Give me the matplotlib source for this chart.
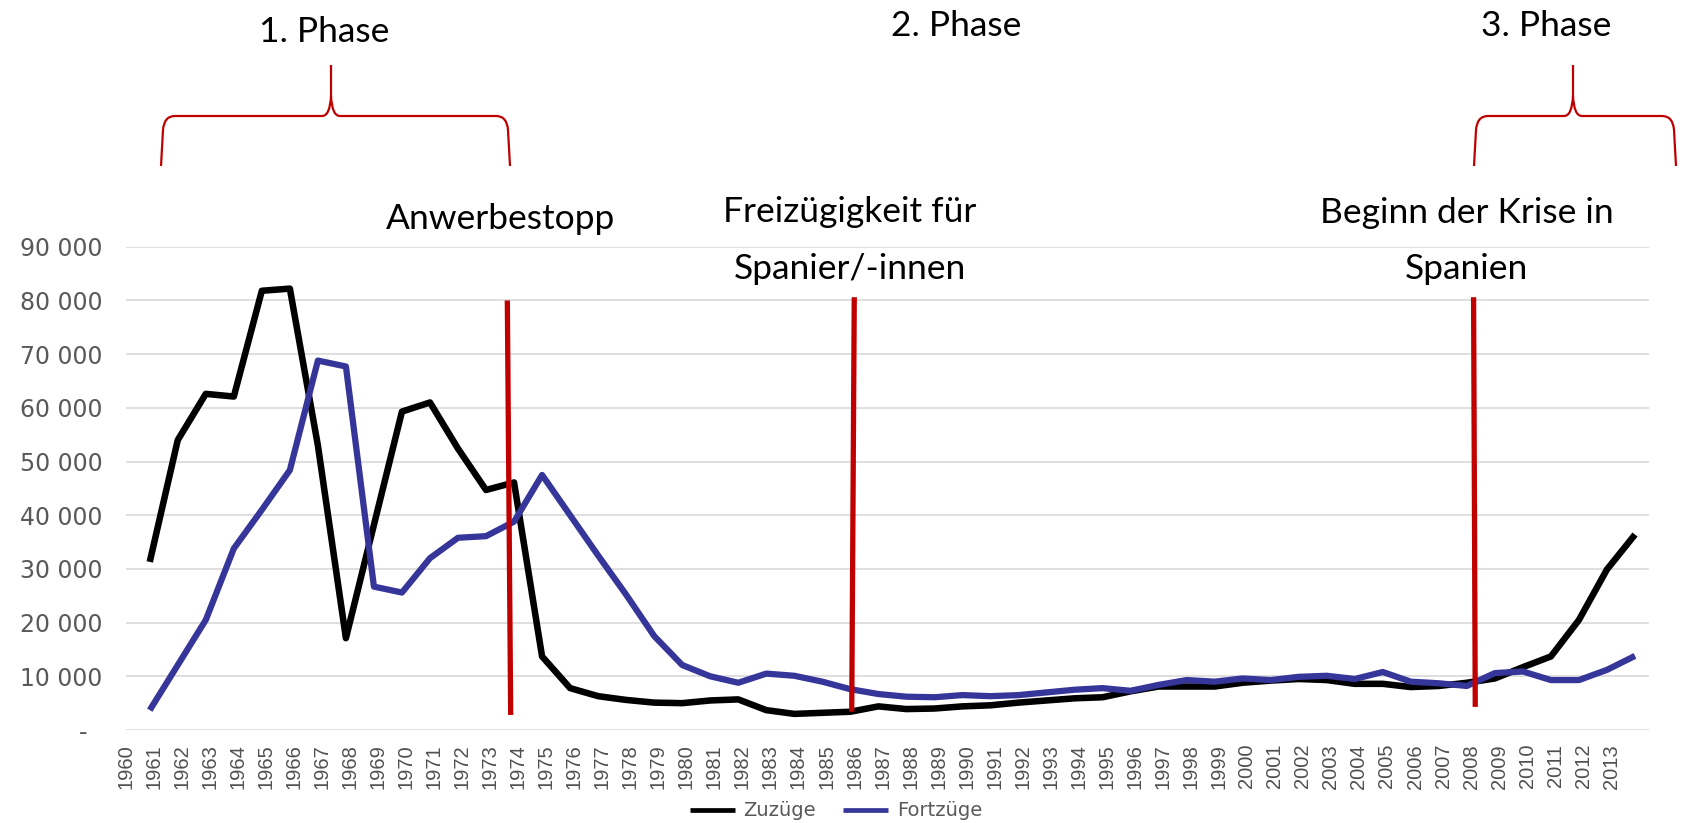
import numpy as np
import matplotlib.pyplot as plt
from matplotlib.path import Path
from matplotlib.patches import PathPatch

# Data: Zuzüge / Fortzüge spanischer Staatsangehöriger
years = list(range(1960, 2014))
zuzuege = [31300, 54000, 62600, 62100, 81800, 82200, 53000, 17100, 38200, 59300,
           61000, 52400, 44700, 46100, 13700, 7800, 6300, 5600, 5100, 5000,
           5500, 5700, 3700, 3000, 3200, 3400, 4400, 3900, 4000, 4400,
           4600, 5100, 5500, 5900, 6100, 7200, 8100, 8100, 8100, 8800,
           9200, 9500, 9300, 8600, 8600, 8000, 8200, 8800, 9600, 11700,
           13700, 20500, 29900, 36400]
fortzuege = [3700, 12100, 20500, 33800, 41000, 48400, 68800, 67700, 26700, 25600,
             32000, 35800, 36100, 38800, 47500, 40000, 32500, 25200, 17500, 12100,
             10000, 8800, 10500, 10100, 9000, 7600, 6700, 6200, 6100, 6500,
             6300, 6500, 7000, 7500, 7800, 7300, 8400, 9300, 9000, 9600,
             9300, 9900, 10100, 9500, 10800, 9000, 8700, 8200, 10600, 10900,
             9300, 9300, 11200, 13800]
y_ticks = [0, 10000, 20000, 30000, 40000, 50000, 60000, 70000, 80000, 90000]
y_ticklabels = ['-  ', '10 000', '20 000', '30 000', '40 000', '50 000',
                '60 000', '70 000', '80 000', '90 000']

# events (red markers): x at top / bottom, y range
event_x_top = [1972.76, 1985.14, 2007.24]
event_x_bot = [1972.88, 1985.05, 2007.30]
event_y_top = [80000, 80600, 80600]
event_y_bot = [2800, 3400, 4300]

RED = '#C00000'
GREY = '#595959'

fig = plt.figure(figsize=(16.88, 8.23), dpi=100)
ax = fig.add_axes([0.0746, 0.1130, 0.9023, 0.5872])

ax.plot(years, zuzuege, color='black', lw=4.7, solid_joinstyle='round',
        solid_capstyle='butt', label='Zuzüge', zorder=3)
ax.plot(years, fortzuege, color='#35359A', lw=4.5, solid_joinstyle='round',
        solid_capstyle='butt', label='Fortzüge', zorder=3)

for xt, xb, yt, yb in zip(event_x_top, event_x_bot, event_y_top, event_y_bot):
    ax.plot([xt, xb], [yt, yb], color=RED, lw=3.8, solid_capstyle='butt', zorder=4)

ax.set_xlim(1959.5, 2013.5)
ax.set_ylim(0, 90000)
ax.set_yticks(y_ticks)
ax.set_yticklabels(y_ticklabels)
ax.set_xticks(np.array(years) - 0.85)
ax.set_xticklabels([str(y) for y in years], rotation=90, va='top', ha='center')
ax.tick_params(axis='x', length=0, pad=10, labelsize=14.5, labelcolor='#505050')
ax.tick_params(axis='y', length=0, pad=17, labelsize=17, labelcolor=GREY)
for lbl in ax.get_xticklabels():
    lbl.set_fontfamily('Liberation Sans')
for lbl in ax.get_yticklabels():
    lbl.set_fontfamily('DejaVu Sans')
ax.grid(axis='y', color='#D9D9D9', lw=1.2, zorder=0)
ax.set_axisbelow(True)
for s in ax.spines.values():
    s.set_visible(False)

leg = ax.legend(loc='center', bbox_to_anchor=(836 / 1688, 1 - 811 / 823),
                bbox_transform=fig.transFigure, ncol=2, frameon=False,
                handlelength=2.3, handletextpad=0.45, columnspacing=1.4,
                prop={'family': 'DejaVu Sans', 'size': 14})
for t in leg.get_texts():
    t.set_color(GREY)
for h in leg.get_lines():
    h.set_linewidth(3.4)

# overlay in pixel coordinates for the annotations
ov = fig.add_axes([0, 0, 1, 1], zorder=5)
ov.set_xlim(0, 1688)
ov.set_ylim(823, 0)
ov.axis('off')
ov.patch.set_alpha(0)


def brace(x0, x1, xtip, y_end, y_bar, y_tip):
    r = 14
    verts = [(x0, y_end), (x0 + 2, y_bar + r), (x0 + 3, y_bar), (x0 + r, y_bar),
             (xtip - 9, y_bar), (xtip - 1, y_bar), (xtip, y_bar - 20), (xtip, y_tip),
             (xtip, y_bar - 20), (xtip + 1, y_bar), (xtip + 9, y_bar),
             (x1 - r, y_bar), (x1 - 3, y_bar), (x1 - 2, y_bar + r), (x1, y_end)]
    codes = [Path.MOVETO, Path.LINETO, Path.CURVE3, Path.CURVE3,
             Path.LINETO, Path.CURVE3, Path.CURVE3, Path.LINETO,
             Path.MOVETO, Path.CURVE3, Path.CURVE3,
             Path.LINETO, Path.CURVE3, Path.CURVE3, Path.LINETO]
    ov.add_patch(PathPatch(Path(verts, codes), fill=False, edgecolor=RED, lw=1.6))


brace(161, 510, 331, 166, 116, 65)
brace(1474, 1676, 1573, 166, 116, 65)

txt = dict(family='Lato', fontsize=25.5, color='black', ha='center', va='baseline')
ov.text(324, 42, '1. Phase', **txt)
ov.text(956, 36, '2. Phase', **txt)
ov.text(1546, 36, '3. Phase', **txt)

ov.text(501, 229, 'Anwerbestopp', **txt)
ov.text(850, 222, 'Freizügigkeit für', **txt)
ov.text(850, 279, 'Spanier/-innen', **txt)
ov.text(1467, 223, 'Beginn der Krise in', **txt)
ov.text(1466, 279, 'Spanien', **txt)

plt.savefig('out.png', dpi=100)
